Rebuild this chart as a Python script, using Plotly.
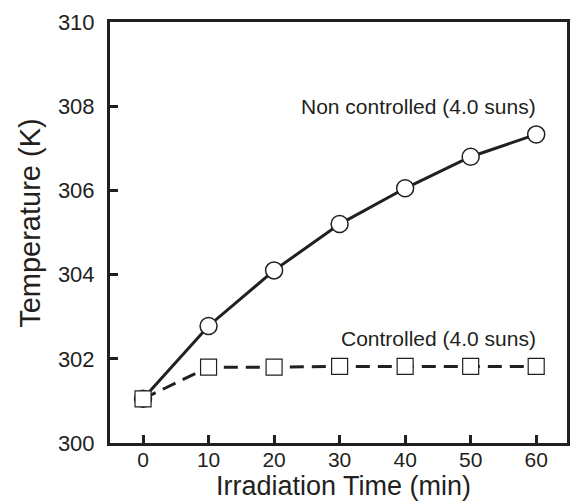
import plotly.graph_objects as go

time_min = [0, 10, 20, 30, 40, 50, 60]
non_controlled = [301.05, 302.78, 304.10, 305.20, 306.05, 306.80, 307.33]
controlled = [301.05, 301.80, 301.80, 301.82, 301.82, 301.82, 301.82]
x_ticks = [0, 10, 20, 30, 40, 50, 60]
y_ticks = [300, 302, 304, 306, 308, 310]

ink = "#231f20"
font_family = "Liberation Sans, Arial, sans-serif"

fig = go.Figure()
fig.add_trace(go.Scatter(
    x=time_min, y=non_controlled, mode="lines+markers",
    line=dict(color=ink, width=3),
    marker=dict(symbol="circle", size=17, color="white", line=dict(color=ink, width=1.5)),
    showlegend=False,
))
fig.add_trace(go.Scatter(
    x=time_min, y=controlled, mode="lines+markers",
    line=dict(color=ink, width=3, dash="14px,8px"),
    marker=dict(symbol="square", size=16, color="white", line=dict(color=ink, width=1.2)),
    showlegend=False,
))

fig.add_annotation(x=60.3, y=308.0, text="Non controlled (4.0 suns)", showarrow=False,
                   xanchor="right", yanchor="middle", font=dict(size=21, color=ink, family=font_family))
fig.add_annotation(x=60.3, y=302.49, text="Controlled (4.0 suns)", showarrow=False,
                   xanchor="right", yanchor="middle", font=dict(size=21, color=ink, family=font_family))

# axis titles as paper-positioned annotations for tight placement
fig.add_annotation(xref="paper", yref="paper", x=0.51, y=-0.1425, text="Irradiation Time (min)",
                   showarrow=False, xanchor="center", yanchor="bottom",
                   font=dict(size=27, color=ink, family=font_family))
fig.add_annotation(xref="paper", yref="paper", x=-0.175, y=0.523, text="Temperature (K)",
                   showarrow=False, xanchor="center", yanchor="middle", textangle=-90,
                   font=dict(size=29, color=ink, family=font_family))

axis_common = dict(
    showline=True, linecolor=ink, linewidth=3, mirror=True,
    ticks="inside", ticklen=8, tickwidth=3, tickcolor=ink,
    showgrid=False, zeroline=False,
)

fig.update_xaxes(range=[-5.04, 64.7], tickvals=x_ticks, ticklabelstandoff=-4,
                 tickfont=dict(size=21, color=ink, family=font_family), **axis_common)
fig.update_yaxes(range=[300, 310], tickvals=y_ticks, ticklabelstandoff=8,
                 tickfont=dict(size=22, color=ink, family=font_family), **axis_common)

fig.update_layout(
    width=570, height=504,
    margin=dict(l=110, r=3, t=22, b=61, autoexpand=False),
    paper_bgcolor="white", plot_bgcolor="white",
    font=dict(family=font_family, color=ink),
)

fig.write_html("out.html", config={"displayModeBar": False},
               post_script="document.body.style.margin='0';document.body.style.overflow='hidden';")
